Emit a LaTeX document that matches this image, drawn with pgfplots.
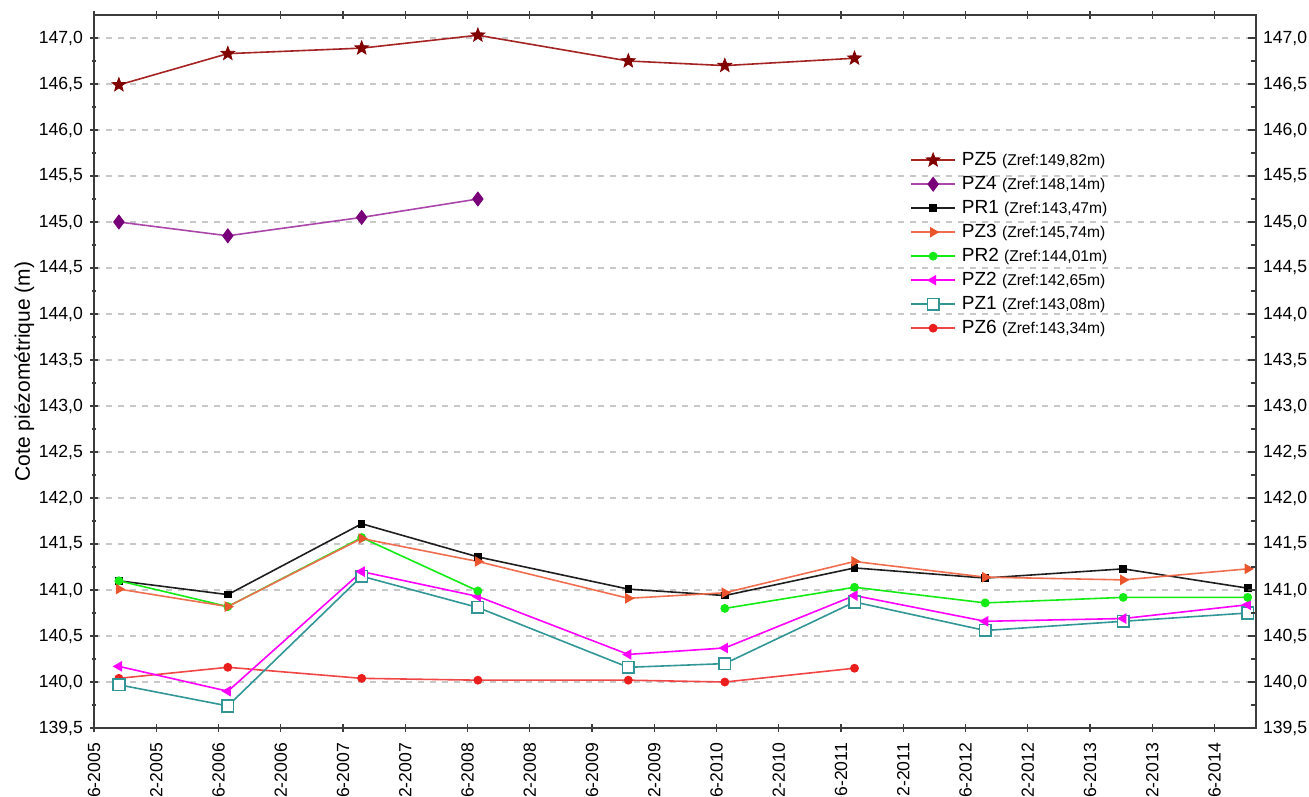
\documentclass[border=0pt]{standalone}
\usepackage{fontspec}
\setmainfont{Liberation Sans}
\usepackage{pgfplots}
\pgfplotsset{compat=1.18}

\definecolor{cPZfive}{RGB}{165,35,35}
\definecolor{mPZfive}{RGB}{128,0,0}
\definecolor{cPZfour}{RGB}{170,70,170}
\definecolor{mPZfour}{RGB}{120,0,120}
\definecolor{cPRone}{RGB}{30,30,30}
\definecolor{cPZthree}{RGB}{240,110,80}
\definecolor{mPZthree}{RGB}{235,85,45}
\definecolor{cPRtwo}{RGB}{20,235,20}
\definecolor{cPZtwo}{RGB}{255,0,255}
\definecolor{cPZone}{RGB}{50,150,150}
\definecolor{cPZsix}{RGB}{240,70,70}
\definecolor{mPZsix}{RGB}{235,30,30}
\definecolor{gridc}{RGB}{200,200,200}
\definecolor{axc}{RGB}{60,60,60}

\pgfdeclareplotmark{fstar}{%
  \pgfpathmoveto{\pgfpointpolar{90}{\pgfplotmarksize}}%
  \pgfpathlineto{\pgfpointpolar{126}{0.42\pgfplotmarksize}}%
  \pgfpathlineto{\pgfpointpolar{162}{\pgfplotmarksize}}%
  \pgfpathlineto{\pgfpointpolar{198}{0.42\pgfplotmarksize}}%
  \pgfpathlineto{\pgfpointpolar{234}{\pgfplotmarksize}}%
  \pgfpathlineto{\pgfpointpolar{270}{0.42\pgfplotmarksize}}%
  \pgfpathlineto{\pgfpointpolar{306}{\pgfplotmarksize}}%
  \pgfpathlineto{\pgfpointpolar{342}{0.42\pgfplotmarksize}}%
  \pgfpathlineto{\pgfpointpolar{18}{\pgfplotmarksize}}%
  \pgfpathlineto{\pgfpointpolar{54}{0.42\pgfplotmarksize}}%
  \pgfpathclose
  \pgfusepathqfillstroke
}

\pgfplotsset{
  common/.style={
    scale only axis, width=581pt, height=356.5pt,
    xmin=0, xmax=112, ymin=139.5, ymax=147.25,
    ytick distance=0.5, minor y tick num=1,
    yticklabel style={font=\fontsize{8.8}{10}\selectfont,
      /pgf/number format/.cd, fixed, fixed zerofill, precision=1, use comma, assume math mode=true},
    axis line style={axc, line width=0.75pt},
    tick style={axc, line width=0.6pt},
    major tick length=4pt, minor tick length=2.5pt,
  },
  sline/.style={line width=0.8pt},
}

\begin{document}
\begin{tikzpicture}
\begin{axis}[common,
  name=ax,
  xtick={0,6,...,108},
  xticklabels={06-2005,12-2005,06-2006,12-2006,06-2007,12-2007,06-2008,12-2008,06-2009,12-2009,06-2010,12-2010,06-2011,12-2011,06-2012,12-2012,06-2013,12-2013,06-2014},
  xticklabel style={rotate=90, anchor=east, font=\fontsize{8.8}{10}\selectfont},
  xticklabel shift=2pt,
  xtick pos=both, ytick pos=left,
  tick align=center,
  ymajorgrids, grid style={gridc, dash pattern=on 3pt off 3pt, line width=0.6pt},
  ylabel={Cote piézométrique (m)},
  ylabel style={font=\fontsize{10.5}{12}\selectfont, at={(axis description cs:-0.06,0.5)}, anchor=center},
  unbounded coords=jump,
  legend cell align=left,
  legend style={draw=none, fill=none, at={(rel axis cs:0.697,0.818)}, anchor=north west,
    font=\fontsize{9.5}{10}\selectfont, row sep=1pt, column sep=2pt,
    nodes={inner sep=1pt, text height=7pt, text depth=2pt}},
  legend image code/.code={\draw[mark repeat=2, mark phase=2] plot coordinates {(0pt,0pt) (11pt,0pt) (22pt,0pt)};},
]
% ---- data (x = months since 06-2005) ----
\addplot[sline, cPZsix, mark=*, mark size=1.8pt, mark options={fill=mPZsix, draw=mPZsix}, forget plot] coordinates {
 (2.4,140.04) (12.9,140.16) (25.8,140.04) (37.0,140.02) (51.5,140.02) (60.8,140.00) (73.3,140.15)};
\addplot[sline, cPZone, mark=square*, mark size=2.9pt, mark options={fill=white, draw=cPZone}, forget plot] coordinates {
 (2.4,139.97) (12.9,139.74) (25.8,141.15) (37.0,140.81) (51.5,140.16) (60.8,140.20) (73.3,140.87) (85.9,140.56) (99.2,140.66) (111.2,140.75)};
\addplot[sline, cPZtwo, mark=triangle*, mark size=2.3pt, mark options={rotate=90, fill=cPZtwo, draw=cPZtwo}, forget plot] coordinates {
 (2.4,140.17) (12.9,139.90) (25.8,141.20) (37.0,140.93) (51.5,140.30) (60.8,140.37) (73.3,140.94) (85.9,140.66) (99.2,140.69) (111.2,140.84)};
\addplot[sline, cPRone, mark=square*, mark size=1.5pt, mark options={fill=black, draw=black}, forget plot] coordinates {
 (2.4,141.10) (12.9,140.95) (25.8,141.72) (37.0,141.36) (51.5,141.01) (60.8,140.94) (73.3,141.24) (85.9,141.13) (99.2,141.23) (111.2,141.02)};
\addplot[sline, cPRtwo, mark=*, mark size=1.8pt, mark options={fill=cPRtwo, draw=cPRtwo}, forget plot] coordinates {
 (2.4,141.10) (12.9,140.82) (25.8,141.57) (37.0,140.99) (51.5,nan) (60.8,140.80) (73.3,141.03) (85.9,140.86) (99.2,140.92) (111.2,140.92)};
\addplot[sline, cPZthree, mark=triangle*, mark size=2.3pt, mark options={rotate=-90, fill=mPZthree, draw=mPZthree}, forget plot] coordinates {
 (2.4,141.01) (12.9,140.82) (25.8,141.56) (37.0,141.31) (51.5,140.91) (60.8,140.97) (73.3,141.31) (85.9,141.14) (99.2,141.11) (111.2,141.23)};
\addplot[sline, cPZfour, mark=diamond*, mark size=3.2pt, mark options={fill=mPZfour, draw=mPZfour}, forget plot] coordinates {
 (2.4,145.00) (12.9,144.85) (25.8,145.05) (37.0,145.25)};
\addplot[sline, cPZfive, mark=fstar, mark size=3.6pt, mark options={fill=mPZfive, draw=mPZfive, line width=0.4pt}, forget plot] coordinates {
 (2.4,146.49) (12.9,146.83) (25.8,146.89) (37.0,147.03) (51.5,146.75) (60.8,146.70) (73.3,146.78)};
% ---- legend ----
\addlegendimage{sline, cPZfive, mark=fstar, mark size=3.6pt, mark options={fill=mPZfive, draw=mPZfive, line width=0.4pt}}
\addlegendentry{PZ5 {\fontsize{7.8}{8}\selectfont (Zref:149,82m)}}
\addlegendimage{sline, cPZfour, mark=diamond*, mark size=3.2pt, mark options={fill=mPZfour, draw=mPZfour}}
\addlegendentry{PZ4 {\fontsize{7.8}{8}\selectfont (Zref:148,14m)}}
\addlegendimage{sline, cPRone, mark=square*, mark size=1.5pt, mark options={fill=black, draw=black}}
\addlegendentry{PR1 {\fontsize{7.8}{8}\selectfont (Zref:143,47m)}}
\addlegendimage{sline, cPZthree, mark=triangle*, mark size=2.3pt, mark options={rotate=-90, fill=mPZthree, draw=mPZthree}}
\addlegendentry{PZ3 {\fontsize{7.8}{8}\selectfont (Zref:145,74m)}}
\addlegendimage{sline, cPRtwo, mark=*, mark size=1.8pt, mark options={fill=cPRtwo, draw=cPRtwo}}
\addlegendentry{PR2 {\fontsize{7.8}{8}\selectfont (Zref:144,01m)}}
\addlegendimage{sline, cPZtwo, mark=triangle*, mark size=2.3pt, mark options={rotate=90, fill=cPZtwo, draw=cPZtwo}}
\addlegendentry{PZ2 {\fontsize{7.8}{8}\selectfont (Zref:142,65m)}}
\addlegendimage{sline, cPZone, mark=square*, mark size=2.9pt, mark options={fill=white, draw=cPZone}}
\addlegendentry{PZ1 {\fontsize{7.8}{8}\selectfont (Zref:143,08m)}}
\addlegendimage{sline, cPZsix, mark=*, mark size=1.8pt, mark options={fill=mPZsix, draw=mPZsix}}
\addlegendentry{PZ6 {\fontsize{7.8}{8}\selectfont (Zref:143,34m)}}
\coordinate (SW) at (rel axis cs:0,0);
\coordinate (NE) at (rel axis cs:1,1);
\end{axis}
\begin{axis}[common,
  hide x axis,
  axis y line*=right,
  ytick pos=right, yticklabel pos=right,
  tick align=inside,
]
\end{axis}
\pgfresetboundingbox
\path ([shift={(-47pt,-34pt)}]SW) rectangle ([shift={(26.5pt,7.5pt)}]NE);
\end{tikzpicture}
\end{document}
